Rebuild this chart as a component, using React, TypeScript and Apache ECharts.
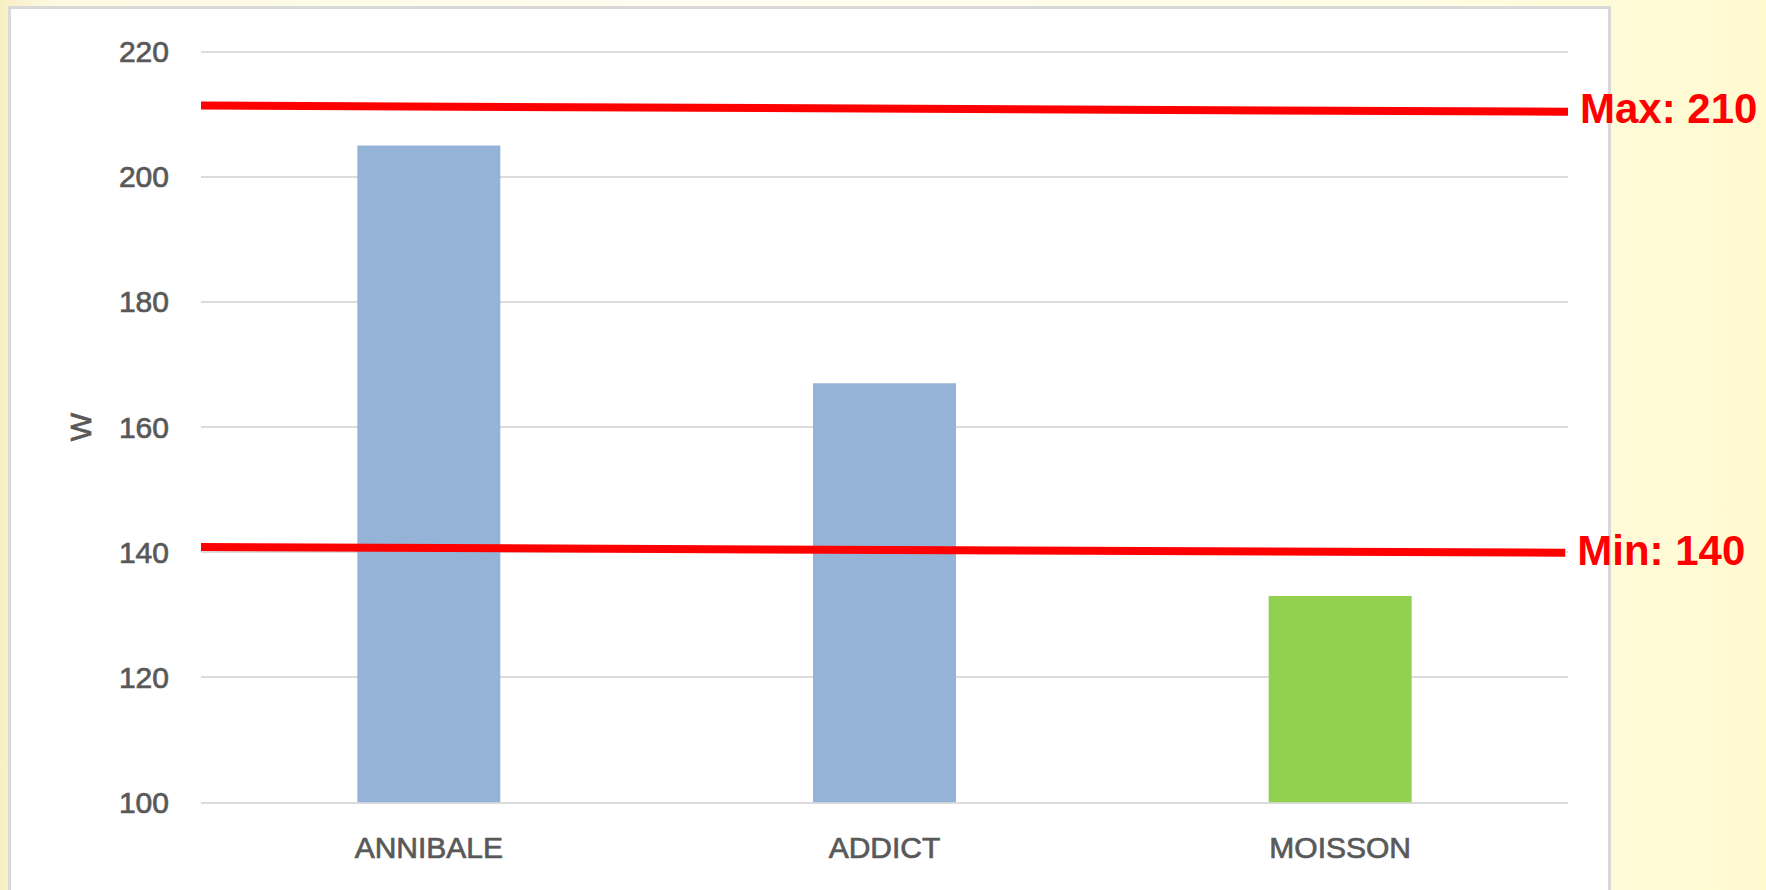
import React, { useEffect, useRef } from "react";
import * as echarts from "echarts";

const categories = ["ANNIBALE", "ADDICT", "MOISSON"];
const values = [205, 167, 133];
const barColors = ["#95b3d7", "#95b3d7", "#92d050"];
const yTicks = { min: 100, max: 220, interval: 20 };
const lineX = [0, 1];
const maxLineX = [0, 1];
const maxLineY = [211.4, 210.4];
const minLineX = [0, 0.998];
const minLineY = [140.8, 139.9];
const maxLabel = "Max: 210";
const minLabel = "Min: 140";
const yName = "W";

export default function App() {
  const ref = useRef<HTMLDivElement>(null);
  useEffect(() => {
    if (!ref.current) return;
    const chart = echarts.init(ref.current, null, { renderer: "svg" });
    const font = "'Liberation Sans', Arial, sans-serif";
    const grayText = {
      color: "#595959",
      fontSize: 30,
      fontFamily: font,
      textBorderColor: "#595959",
      textBorderWidth: 0.7,
    };
    const redLabel = (text: string, dy: number) => ({
      show: true,
      formatter: text,
      color: "#ff0000",
      fontSize: 42,
      fontWeight: "bold",
      fontFamily: font,
      distance: 12,
      offset: [0, dy],
    });
    chart.setOption({
      animation: false,
      backgroundColor: "transparent",
      grid: { left: 201, right: 198, top: 51.7, bottom: 87.7, containLabel: false },
      xAxis: [
        {
          type: "category",
          data: categories,
          axisLine: { show: false },
          axisTick: { show: false },
          axisLabel: { ...grayText, margin: 30 },
        },
        {
          type: "value",
          min: lineX[0],
          max: lineX[1],
          show: false,
        },
      ],
      yAxis: {
        type: "value",
        min: yTicks.min,
        max: yTicks.max,
        interval: yTicks.interval,
        name: yName,
        nameLocation: "middle",
        nameGap: 106,
        nameRotate: 90,
        nameTextStyle: { ...grayText },
        axisLine: { show: false },
        axisTick: { show: false },
        splitLine: { lineStyle: { color: "#dcdcdc", width: 2 } },
        axisLabel: { ...grayText, margin: 32 },
      },
      series: [
        {
          type: "bar",
          barWidth: 143,
          data: values.map((v, i) => ({ value: v, itemStyle: { color: barColors[i] } })),
          z: 2,
        },
        {
          type: "line",
          xAxisIndex: 1,
          data: maxLineX.map((x, i) => [x, maxLineY[i]]),
          symbol: "none",
          lineStyle: { color: "#ff0000", width: 8, cap: "butt" },
          endLabel: redLabel(maxLabel, -3),
          z: 5,
        },
        {
          type: "line",
          xAxisIndex: 1,
          data: minLineX.map((x, i) => [x, minLineY[i]]),
          symbol: "none",
          lineStyle: { color: "#ff0000", width: 8, cap: "butt" },
          endLabel: redLabel(minLabel, -2),
          z: 5,
        },
      ],
    });
    return () => chart.dispose();
  }, []);

  return (
    <div
      style={{
        position: "absolute",
        left: 0,
        top: 0,
        width: 1766,
        height: 890,
        overflow: "hidden",
        background:
          "linear-gradient(90deg, #f7efc4 0%, #fdf9e2 3%, #fffdf0 40%, #fffde4 80%, #fffad0 100%)",
      }}
    >
      <div
        style={{
          position: "absolute",
          left: 8,
          top: 6,
          width: 1603,
          height: 920,
          background: "#ffffff",
          border: "3px solid #d9d9d9",
          boxSizing: "border-box",
        }}
      />
      <div
        ref={ref}
        style={{ position: "absolute", left: 0, top: 0, width: 1766, height: 890 }}
      />
    </div>
  );
}
